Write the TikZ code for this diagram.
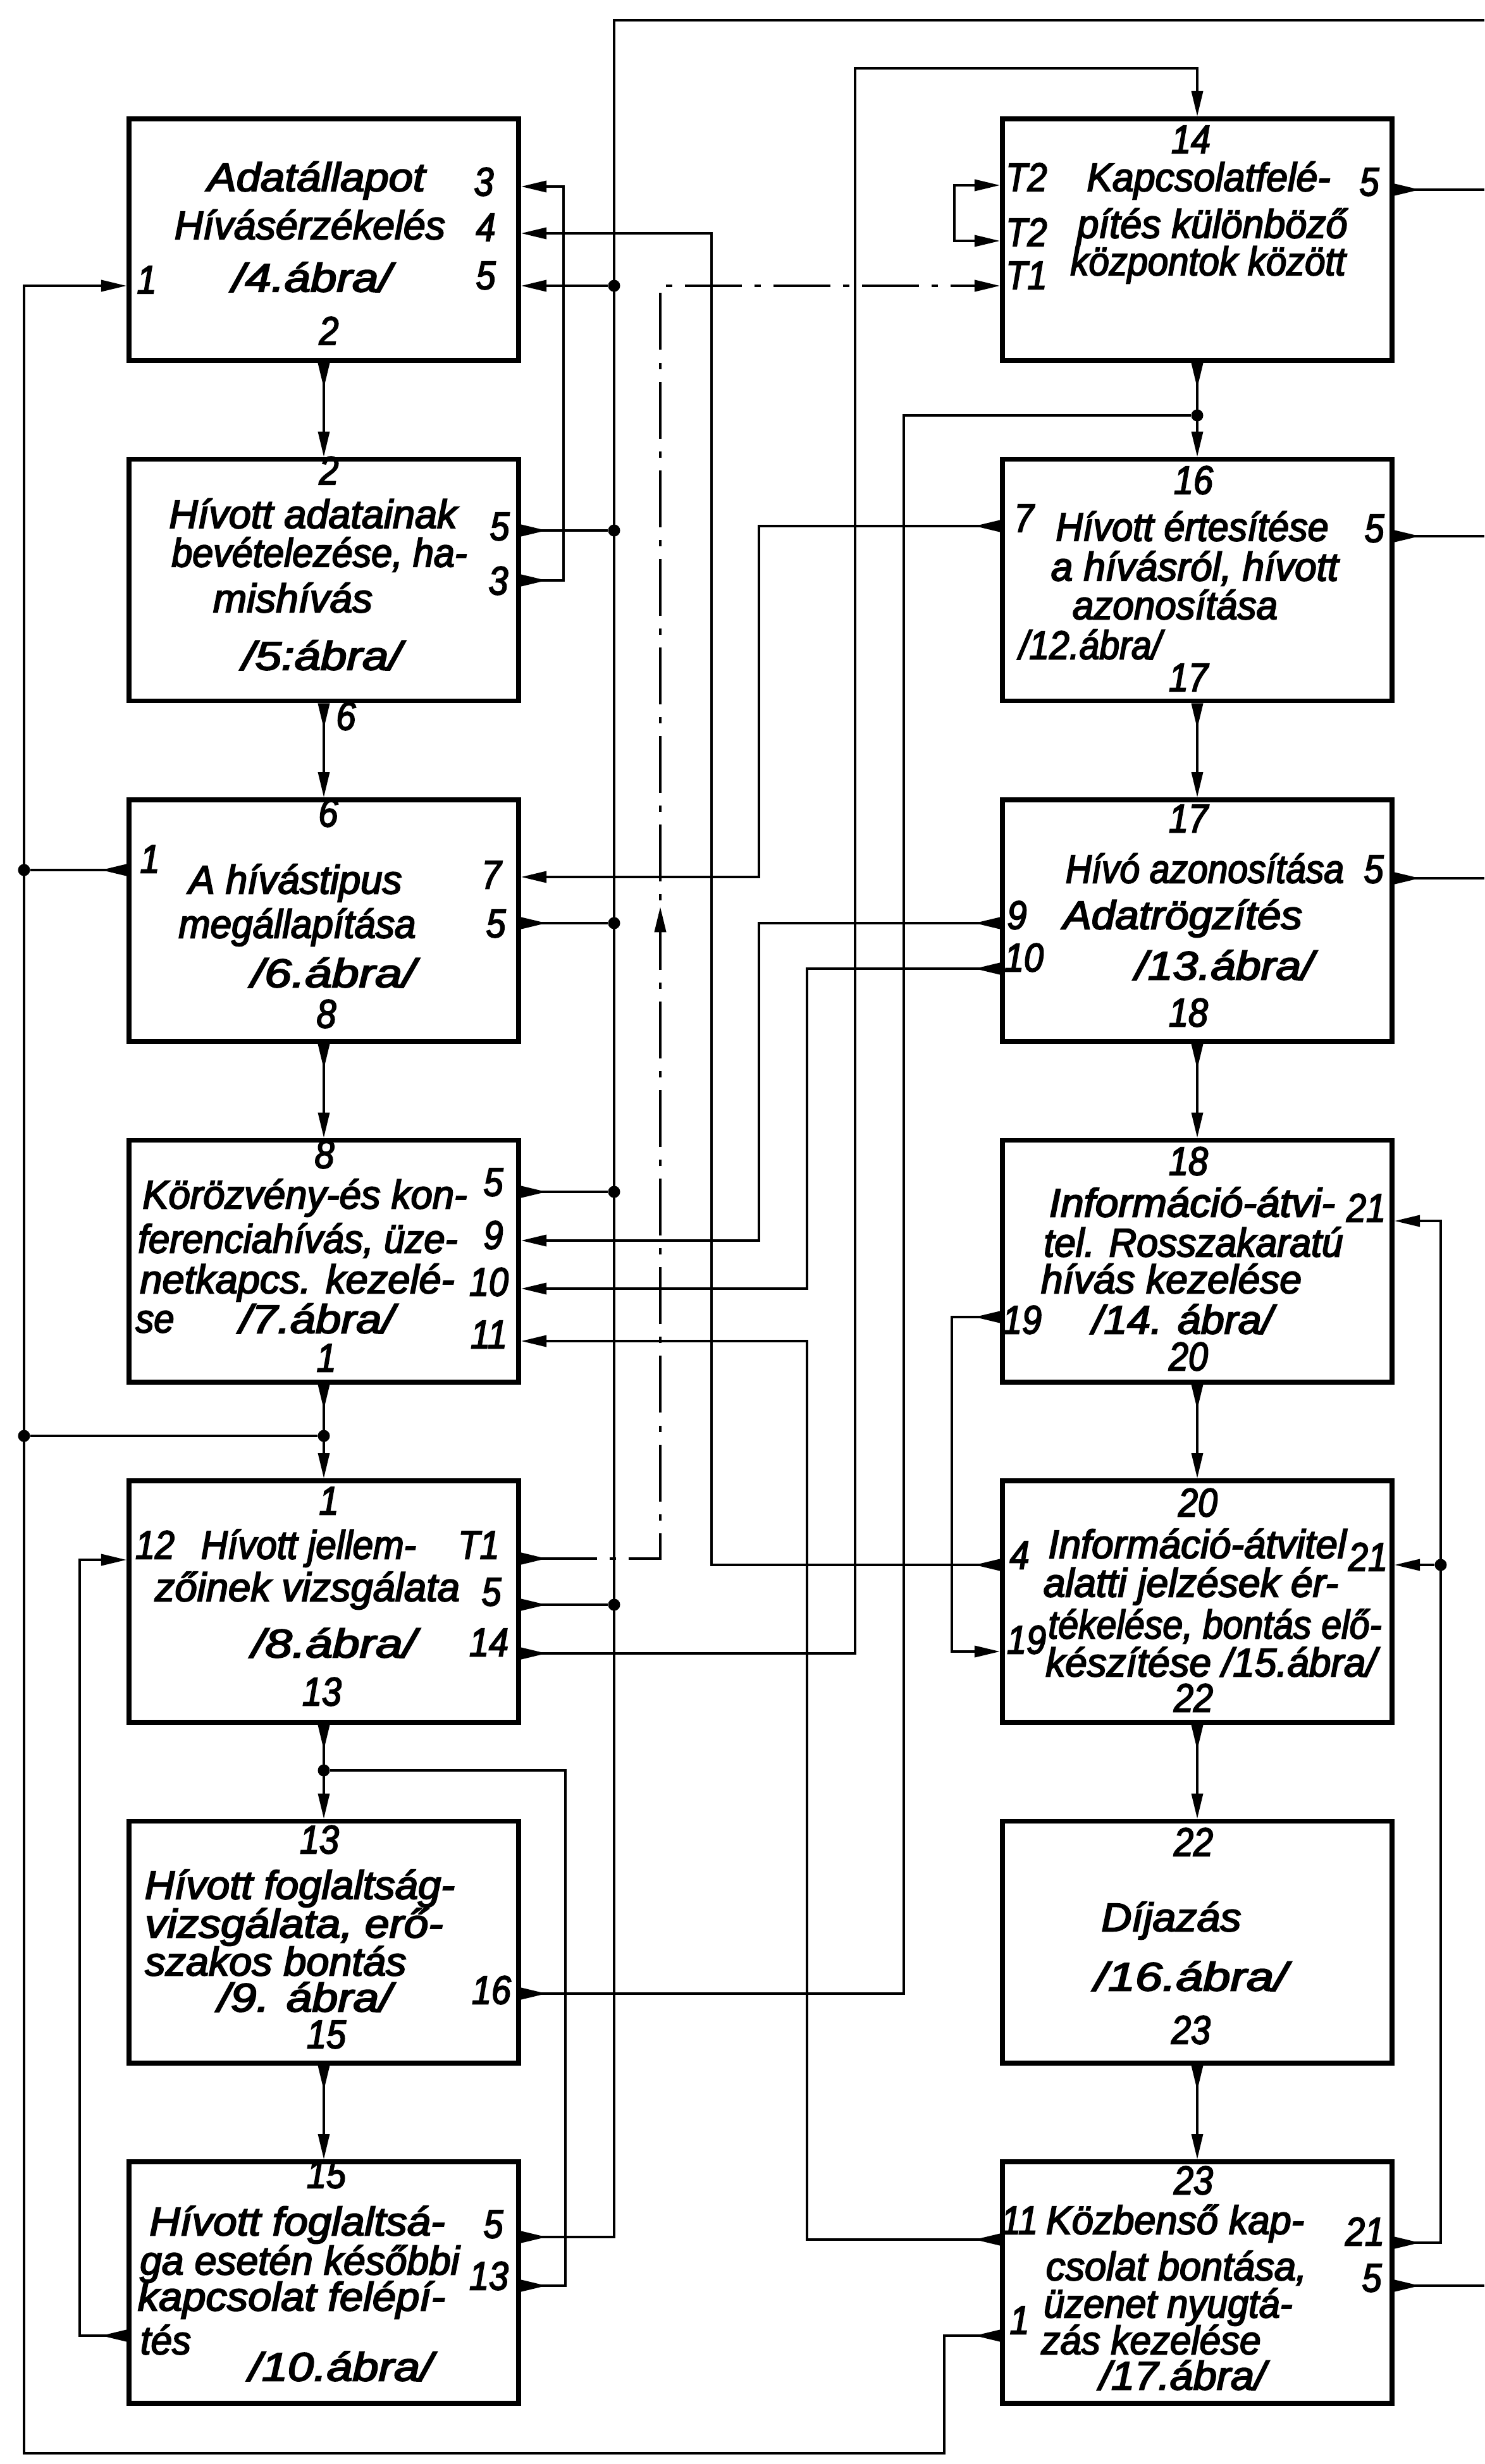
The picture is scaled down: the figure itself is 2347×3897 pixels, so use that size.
\documentclass[tikz,border=0pt]{standalone}
\usepackage{fontspec}
\setmainfont{Liberation Sans}[FakeStretch=0.88,FakeBold=3]
\usetikzlibrary{arrows.meta,decorations.markings}

% egy sor szoveg a megadott szelessegre (cm)
\newcommand{\sor}[2]{\resizebox{#1cm}{\height}{#2}}

\tikzset{
  be/.tip={Triangle[length=4mm,width=1.8mm]},
  ki/.tip={Triangle[reversed,length=4mm,width=1.8mm]},
  blokk/.style={draw, line width=2.2pt, minimum width=6.16cm, minimum height=3.82cm, inner sep=0pt},
  vonal/.style={line width=1pt},
  pontvonal/.style={line width=1.1pt, dash pattern=on 9mm off 2mm on 1mm off 2mm},
  csomo/.style={circle, fill, inner sep=0pt, minimum size=1.9mm},
  szoveg/.style={font=\fontsize{18}{20}\selectfont\itshape, inner sep=0pt, anchor=mid},
  szam/.style={font=\fontsize{18}{20}\selectfont\itshape, inner sep=0pt, anchor=mid},
}

\begin{document}
\begin{tikzpicture}[x=0.01cm,y=-0.01cm]
  \useasboundingbox (0,0) rectangle (2347,3897);
  % bal oszlop
  \node[blokk] (L1) at (512,379) {};
  \node[blokk] (L2) at (512,917.5) {};
  \node[blokk] (L3) at (512,1456) {};
  \node[blokk] (L4) at (512,1994.5) {};
  \node[blokk] (L5) at (512,2533) {};
  \node[blokk] (L6) at (512,3071.5) {};
  \node[blokk] (L7) at (512,3610) {};
  % jobb oszlop
  \node[blokk] (R14) at (1893,379) {};
  \node[blokk] (R16) at (1893,917.5) {};
  \node[blokk] (R17) at (1893,1456) {};
  \node[blokk] (R18) at (1893,1994.5) {};
  \node[blokk] (R20) at (1893,2533) {};
  \node[blokk] (R22) at (1893,3071.5) {};
  \node[blokk] (R23) at (1893,3610) {};

  % szovegek
  \node[szoveg] (L1a) at (500,293) {\sor{3.44}{Adatállapot}};
  \node[szoveg] (L1b) at (490,369) {\sor{4.28}{Hívásérzékelés}};
  \node[szoveg] (L1c) at (493,452) {\sor{2.52}{/4.ábra/}};
  \node[szoveg] (L2a) at (495,826) {\sor{4.55}{Hívott adatainak}};
  \node[szoveg] (L2b) at (505,887) {\sor{4.67}{bevételezése, ha-}};
  \node[szoveg] (L2c) at (463,959) {\sor{2.52}{mishívás}};
  \node[szoveg] (L2d) at (509,1050) {\sor{2.52}{/5:ábra/}};
  \node[szoveg] (L3a) at (467,1404) {\sor{3.37}{A hívástipus}};
  \node[szoveg] (L3b) at (470,1474) {\sor{3.75}{megállapítása}};
  \node[szoveg] (L3c) at (527,1552) {\sor{2.60}{/6.ábra/}};
  \node[szoveg] (L4a) at (482,1902) {\sor{5.13}{Körözvény-és kon-}};
  \node[szoveg] (L4b) at (471,1972) {\sor{5.05}{ferenciahívás, üze-}};
  \node[szoveg] (L4c) at (470,2036) {\sor{4.97}{netkapcs. kezelé-}};
  \node[szoveg] (L4d) at (245,2098) {\sor{0.61}{se}};
  \node[szoveg] (L4e) at (501,2099) {\sor{2.45}{/7.ábra/}};
  \node[szoveg] (L5a) at (488,2456) {\sor{3.40}{Hívott jellem-}};
  \node[szoveg] (L5b) at (486,2523) {\sor{4.82}{zőinek vizsgálata}};
  \node[szoveg] (L5c) at (528,2612) {\sor{2.60}{/8.ábra/}};
  \node[szoveg] (L6a) at (474,2994) {\sor{4.90}{Hívott foglaltság-}};
  \node[szoveg] (L6b) at (465,3055) {\sor{4.71}{vizsgálata, erő-}};
  \node[szoveg] (L6c) at (436,3115) {\sor{4.13}{szakos bontás}};
  \node[szoveg] (L6d) at (482,3172) {\sor{2.75}{/9. ábra/}};
  \node[szoveg] (L7a) at (470,3526) {\sor{4.67}{Hívott foglaltsá-}};
  \node[szoveg] (L7b) at (474,3588) {\sor{5.05}{ga esetén későbbi}};
  \node[szoveg] (L7c) at (461,3645) {\sor{4.86}{kapcsolat felépí-}};
  \node[szoveg] (L7d) at (262,3714) {\sor{0.80}{tés}};
  \node[szoveg] (L7e) at (539,3756) {\sor{2.91}{/10.ábra/}};
  \node[szoveg] (R14a) at (1911,293) {\sor{3.85}{Kapcsolatfelé-}};
  \node[szoveg] (R14b) at (1917,367) {\sor{4.27}{pítés különböző}};
  \node[szoveg] (R14c) at (1910,426) {\sor{4.35}{központok között}};
  \node[szoveg] (R16a) at (1885,846) {\sor{4.31}{Hívott értesítése}};
  \node[szoveg] (R16b) at (1889,909) {\sor{4.54}{a hívásról, hívott}};
  \node[szoveg] (R16c) at (1858,970) {\sor{3.24}{azonosítása}};
  \node[szoveg] (R16d) at (1724,1033) {\sor{2.25}{/12.ábra/}};
  \node[szoveg] (R17a) at (1905,1387) {\sor{4.40}{Hívó azonosítása}};
  \node[szoveg] (R17b) at (1870,1460) {\sor{3.78}{Adatrögzítés}};
  \node[szoveg] (R17c) at (1936,1540) {\sor{2.82}{/13.ábra/}};
  \node[szoveg] (R18a) at (1885,1915) {\sor{4.52}{Információ-átvi-}};
  \node[szoveg] (R18b) at (1887,1978) {\sor{4.73}{tel. Rosszakaratú}};
  \node[szoveg] (R18c) at (1852,2036) {\sor{4.12}{hívás kezelése}};
  \node[szoveg] (R18d) at (1870,2100) {\sor{2.86}{/14. ábra/}};
  \node[szoveg] (R20a) at (1893,2455) {\sor{4.71}{Információ-átvitel}};
  \node[szoveg] (R20b) at (1883,2516) {\sor{4.66}{alatti jelzések ér-}};
  \node[szoveg] (R20c) at (1921,2582) {\sor{5.27}{tékelése, bontás elő-}};
  \node[szoveg] (R20d) at (1915,2642) {\sor{5.23}{készítése /15.ábra/}};
  \node[szoveg] (R22a) at (1852,3045) {\sor{2.21}{Díjazás}};
  \node[szoveg] (R22b) at (1883,3139) {\sor{3.05}{/16.ábra/}};
  \node[szoveg] (R23a) at (1858,3524) {\sor{4.08}{Közbenső kap-}};
  \node[szoveg] (R23b) at (1860,3597) {\sor{4.12}{csolat bontása,}};
  \node[szoveg] (R23c) at (1847,3656) {\sor{3.93}{üzenet nyugtá-}};
  \node[szoveg] (R23d) at (1820,3714) {\sor{3.47}{zás kezelése}};
  \node[szoveg] (R23e) at (1870,3770) {\sor{2.63}{/17.ábra/}};

  % kapuszamok
  \node[szam] (L1n1) at (232,455) {1};
  \node[szam] (L1n3) at (765,300) {3};
  \node[szam] (L1n4) at (768,372) {4};
  \node[szam] (L1n5) at (768,448) {5};
  \node[szam] (L1n2) at (520,536) {2};
  \node[szam] (L2n2) at (520,757) {2};
  \node[szam] (L2n5) at (790,845) {5};
  \node[szam] (L2n3) at (788,931) {3};
  \node[szam] (L2n6) at (547,1145) {6};
  \node[szam] (L3n6) at (519,1298) {6};
  \node[szam] (L3n1) at (237,1371) {1};
  \node[szam] (L3n7) at (777,1396) {7};
  \node[szam] (L3n5) at (784,1473) {5};
  \node[szam] (L3n8) at (516,1616) {8};
  \node[szam] (L4n8) at (513,1838) {8};
  \node[szam] (L4n5) at (780,1882) {5};
  \node[szam] (L4n9) at (780,1966) {9};
  \node[szam] (L4n10) at (773,2040) {10};
  \node[szam] (L4n11) at (773,2123) {11};
  \node[szam] (L4n1) at (516,2160) {1};
  \node[szam] (L5n1) at (520,2386) {1};
  \node[szam] (L5n12) at (245,2456) {12};
  \node[szam] (L5nT1) at (757,2456) {T1};
  \node[szam] (L5n5) at (777,2530) {5};
  \node[szam] (L5n14) at (773,2610) {14};
  \node[szam] (L5n13) at (509,2688) {13};
  \node[szam] (L6n13) at (505,2922) {13};
  \node[szam] (L6n16) at (777,3160) {16};
  \node[szam] (L6n15) at (516,3230) {15};
  \node[szam] (L7n15) at (516,3451) {15};
  \node[szam] (L7n5) at (780,3530) {5};
  \node[szam] (L7n13) at (773,3612) {13};
  \node[szam] (R14n14) at (1883,233) {14};
  \node[szam] (R14nT2a) at (1623,293) {T2};
  \node[szam] (R14nT2b) at (1623,380) {T2};
  \node[szam] (R14nT1) at (1623,448) {T1};
  \node[szam] (R14n5) at (2165,300) {5};
  \node[szam] (R16n16) at (1887,772) {16};
  \node[szam] (R16n7) at (1619,832) {7};
  \node[szam] (R16n5) at (2173,848) {5};
  \node[szam] (R16n17) at (1879,1084) {17};
  \node[szam] (R17n17) at (1879,1307) {17};
  \node[szam] (R17n5) at (2172,1387) {5};
  \node[szam] (R17n9) at (1608,1460) {9};
  \node[szam] (R17n10) at (1619,1527) {10};
  \node[szam] (R17n18) at (1879,1614) {18};
  \node[szam] (R18n18) at (1879,1849) {18};
  \node[szam] (R18n21) at (2160,1923) {21};
  \node[szam] (R18n19) at (1616,2100) {19};
  \node[szam] (R18n20) at (1879,2158) {20};
  \node[szam] (R20n20) at (1894,2389) {20};
  \node[szam] (R20n4) at (1612,2472) {4};
  \node[szam] (R20n21) at (2163,2475) {21};
  \node[szam] (R20n19) at (1623,2606) {19};
  \node[szam] (R20n22) at (1887,2698) {22};
  \node[szam] (R22n22) at (1887,2926) {22};
  \node[szam] (R22n23) at (1883,3223) {23};
  \node[szam] (R23n23) at (1887,3461) {23};
  \node[szam] (R23n11) at (1612,3524) {11};
  \node[szam] (R23n21) at (2158,3542) {21};
  \node[szam] (R23n5) at (2169,3615) {5};
  \node[szam] (R23n1) at (1612,3682) {1};

  % kapuk
  \coordinate (L1-1) at (L1.west |- 0,452);
  \coordinate (L1-3) at (L1.east |- 0,295);
  \coordinate (L1-4) at (L1.east |- 0,369);
  \coordinate (L1-5) at (L1.east |- 0,452);
  \coordinate (L2-5) at (L2.east |- 0,839);
  \coordinate (L2-3) at (L2.east |- 0,918);
  \coordinate (L3-1) at (L3.west |- 0,1376);
  \coordinate (L3-7) at (L3.east |- 0,1387);
  \coordinate (L3-5) at (L3.east |- 0,1460);
  \coordinate (L4-5) at (L4.east |- 0,1885);
  \coordinate (L4-9) at (L4.east |- 0,1962);
  \coordinate (L4-10) at (L4.east |- 0,2038);
  \coordinate (L4-11) at (L4.east |- 0,2121);
  \coordinate (L5-12) at (L5.west |- 0,2467);
  \coordinate (L5-T1) at (L5.east |- 0,2465);
  \coordinate (L5-5) at (L5.east |- 0,2538);
  \coordinate (L5-14) at (L5.east |- 0,2615);
  \coordinate (L6-16) at (L6.east |- 0,3153);
  \coordinate (L7-5) at (L7.east |- 0,3538);
  \coordinate (L7-13) at (L7.east |- 0,3615);
  \coordinate (L7-12) at (L7.west |- 0,3694);
  \coordinate (R14-T2a) at (R14.west |- 0,293);
  \coordinate (R14-T2b) at (R14.west |- 0,381);
  \coordinate (R14-T1) at (R14.west |- 0,452);
  \coordinate (R14-5) at (R14.east |- 0,300);
  \coordinate (R16-7) at (R16.west |- 0,832);
  \coordinate (R16-5) at (R16.east |- 0,848);
  \coordinate (R17-5) at (R17.east |- 0,1389);
  \coordinate (R17-9) at (R17.west |- 0,1460);
  \coordinate (R17-10) at (R17.west |- 0,1532);
  \coordinate (R18-21) at (R18.east |- 0,1931);
  \coordinate (R18-19) at (R18.west |- 0,2083);
  \coordinate (R20-4) at (R20.west |- 0,2475);
  \coordinate (R20-21) at (R20.east |- 0,2475);
  \coordinate (R20-19) at (R20.west |- 0,2612);
  \coordinate (R23-11) at (R23.west |- 0,3542);
  \coordinate (R23-21) at (R23.east |- 0,3547);
  \coordinate (R23-5) at (R23.east |- 0,3615);
  \coordinate (R23-1) at (R23.west |- 0,3694);

  % toresek, szabad vegek
  \coordinate (k1a) at (1493,3880);
  \coordinate (k1b) at (38,3880);
  \coordinate (k3) at (891,295);
  \coordinate (k4) at (1125,369);
  \coordinate (k7) at (1200,1387);
  \coordinate (k9) at (1200,1962);
  \coordinate (k10) at (1276,2038);
  \coordinate (k11) at (1276,2121);
  \coordinate (k12) at (126,2467);
  \coordinate (k13) at (894,2800);
  \coordinate (k14) at (1352,108);
  \coordinate (k16) at (1429,657);
  \coordinate (k19) at (1505,2612);
  \coordinate (k21) at (2278,1931);
  \coordinate (kT1) at (1044,452);
  \coordinate (kT2) at (1509,381);
  \coordinate (b5) at (971,32);
  \coordinate (b5e) at (2347,32);
  \coordinate (e14) at (2347,300);
  \coordinate (e16) at (2347,848);
  \coordinate (e17) at (2347,1389);
  \coordinate (e23) at (2347,3615);

  % csomopontok
  \node[csomo] (j1a) at (38,1376) {};
  \node[csomo] (j1b) at (38,2271) {};
  \node[csomo] (j1c) at (512,2271) {};
  \node[csomo] (j13) at (512,2800) {};
  \node[csomo] (j16) at (1893,657) {};
  \node[csomo] (j21) at (2278,2475) {};
  \node[csomo] (j5a) at (971,452) {};
  \node[csomo] (j5b) at (971,839) {};
  \node[csomo] (j5c) at (971,1460) {};
  \node[csomo] (j5d) at (971,1885) {};
  \node[csomo] (j5e) at (971,2538) {};

  % fuggoleges kapcsolatok
  \draw[vonal, ki-be] (L1.south) -- (L2.north);
  \draw[vonal, ki-be] (L2.south) -- (L3.north);
  \draw[vonal, ki-be] (L3.south) -- (L4.north);
  \draw[vonal, ki-be] (L4.south) -- (L5.north);
  \draw[vonal, ki-be] (L5.south) -- (L6.north);
  \draw[vonal, ki-be] (L6.south) -- (L7.north);
  \draw[vonal, ki-be] (R14.south) -- (R16.north);
  \draw[vonal, ki-be] (R16.south) -- (R17.north);
  \draw[vonal, ki-be] (R17.south) -- (R18.north);
  \draw[vonal, ki-be] (R18.south) -- (R20.north);
  \draw[vonal, ki-be] (R20.south) -- (R22.north);
  \draw[vonal, ki-be] (R22.south) -- (R23.north);

  % 1
  \draw[vonal, ki-be] (R23-1) -| (k1a) -- (k1b) |- (L1-1);
  \draw[vonal, ki-] (L3-1) -- (j1a);
  \draw[vonal] (j1b) -- (j1c);
  % 3, 4, 7, 9, 10, 11, 12
  \draw[vonal, ki-be] (L2-3) -| (k3) -- (L1-3);
  \draw[vonal, ki-be] (R20-4) -| (k4) -- (L1-4);
  \draw[vonal, ki-be] (R16-7) -| (k7) -- (L3-7);
  \draw[vonal, ki-be] (R17-9) -| (k9) -- (L4-9);
  \draw[vonal, ki-be] (R17-10) -| (k10) -- (L4-10);
  \draw[vonal, ki-be] (R23-11) -| (k11) -- (L4-11);
  \draw[vonal, ki-be] (L7-12) -| (k12) -- (L5-12);
  % 13, 14, 16
  \draw[vonal, ki-] (L7-13) -| (k13) -- (j13);
  \draw[vonal, ki-be] (L5-14) -| (k14) -| (R14.north);
  \draw[vonal, ki-] (L6-16) -| (k16) -- (j16);
  % 19, 21
  \draw[vonal, ki-be] (R18-19) -| (k19) -- (R20-19);
  \draw[vonal, ki-be] (R23-21) -| (k21) -- (R18-21);
  \draw[vonal, -be] (j21) -- (R20-21);
  % T1, T2
  \draw[pontvonal, ki-be, postaction={decorate},
    decoration={markings, mark=at position 12.5cm with {\arrow{be}}}]
    (L5-T1) -| (kT1) -- (R14-T1);
  \draw[vonal, be-be] (R14-T2a) -| (kT2) -- (R14-T2b);
  % 5
  \draw[vonal, ki-] (L7-5) -| (b5) -- (b5e);
  \draw[vonal, -be] (j5a) -- (L1-5);
  \draw[vonal, ki-] (L2-5) -- (j5b);
  \draw[vonal, ki-] (L3-5) -- (j5c);
  \draw[vonal, ki-] (L4-5) -- (j5d);
  \draw[vonal, ki-] (L5-5) -- (j5e);
  \draw[vonal, ki-] (R14-5) -- (e14);
  \draw[vonal, ki-] (R16-5) -- (e16);
  \draw[vonal, ki-] (R17-5) -- (e17);
  \draw[vonal, ki-] (R23-5) -- (e23);
\end{tikzpicture}
\end{document}
